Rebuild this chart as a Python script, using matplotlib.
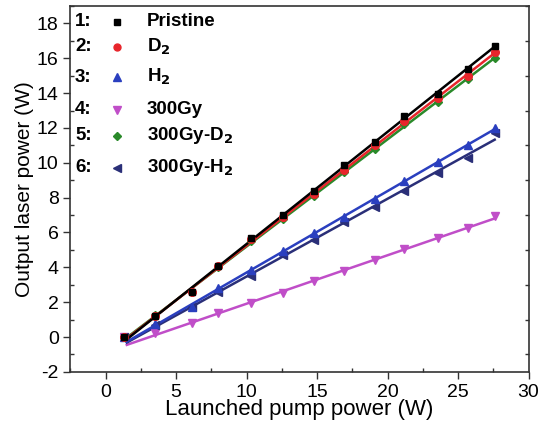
import numpy as np
import matplotlib
matplotlib.use("Agg")
import matplotlib.pyplot as plt
from matplotlib.ticker import MultipleLocator

plt.rcParams['font.family'] = ['Liberation Sans', 'DejaVu Sans']
plt.rcParams['axes.unicode_minus'] = False

pump = [1.3, 3.5, 6.1, 8.0, 10.3, 12.6, 14.8, 16.9, 19.1, 21.2, 23.6, 25.7, 27.6]
pristine = [0.0, 1.2, 2.6, 4.1, 5.7, 7.0, 8.4, 9.85, 11.2, 12.66, 13.95, 15.4, 16.7]
d2 = [0.0, 1.2, 2.6, 4.05, 5.6, 6.9, 8.2, 9.6, 11.0, 12.4, 13.7, 15.0, 16.35]
h2 = [0.0, 0.75, 1.75, 2.8, 3.85, 4.96, 5.96, 6.91, 7.9, 8.97, 10.04, 11.0, 12.0]
gy300 = [0.0, 0.25, 0.82, 1.36, 1.97, 2.51, 3.22, 3.8, 4.43, 5.04, 5.67, 6.24, 6.95]
gy300_d2 = [0.0, 1.25, 2.6, 4.0, 5.5, 6.8, 8.1, 9.5, 10.8, 12.2, 13.5, 14.8, 16.0]
gy300_h2 = [0.0, 0.69, 1.7, 2.6, 3.5, 4.71, 5.57, 6.63, 7.49, 8.4, 9.4, 10.27, 11.7]

names = ['Pristine', r'D$_\mathbf{2}$', r'H$_\mathbf{2}$', '300Gy', r'300Gy-D$_\mathbf{2}$', r'300Gy-H$_\mathbf{2}$']
series = [pristine, d2, h2, gy300, gy300_d2, gy300_h2]
colors = ['#000000', '#e8252b', '#2a3fbf', '#c04ec8', '#2a8a2a', '#2a2f78']
markers = ['s', 'o', '^', 'v', 'D', '<']
msizes = [5, 5.5, 6, 6, 4.5, 6]

fig = plt.figure(figsize=(5.46, 4.26), dpi=100)
ax = fig.add_axes([0.129, 0.127, 0.839, 0.859])

x = np.array(pump)
order = [3, 5, 2, 4, 1, 0]
for i in order:
    y = np.array(series[i])
    k, b = np.polyfit(x[1:], y[1:], 1)
    xl = np.array([x[0] + 0.2, x[-1]])
    ax.plot(xl, k * xl + b, color=colors[i], lw=1.8, zorder=2)
    ax.plot(x, y, linestyle='none', marker=markers[i], color=colors[i], ms=msizes[i], zorder=3)

ax.set_xlim(-2.5, 30)
ax.set_ylim(-2, 19)
ax.xaxis.set_major_locator(MultipleLocator(5))
ax.xaxis.set_minor_locator(MultipleLocator(2.5))
ax.yaxis.set_major_locator(MultipleLocator(2))
ax.yaxis.set_minor_locator(MultipleLocator(1))
ax.tick_params(axis='both', which='major', direction='out', length=5, width=1, labelsize=14, colors='#333333', labelcolor='black')
ax.tick_params(axis='x', which='minor', direction='in', length=3, width=1, colors='#333333')
ax.tick_params(axis='y', which='minor', direction='out', length=3, width=1, colors='#333333')
ax.tick_params(axis='y', which='minor', right=True, direction='in')
for s in ax.spines.values():
    s.set_color('#333333')
    s.set_linewidth(1.2)

ax.set_xlabel('Launched pump power (W)', fontsize=16, labelpad=-1)
ax.set_ylabel('Output laser power (W)', fontsize=15, labelpad=2)

# custom legend
row_y = [21.7, 46.7, 77.3, 110, 136, 168]
for j, (nm, c, m, ms) in enumerate(zip(names, colors, markers, msizes)):
    yy = 426 - row_y[j]
    fig.text(75 / 546, yy / 426, f'{j+1}:', fontsize=13.5, fontweight='bold', va='center', ha='left')
    fig.text(147 / 546, yy / 426, nm, fontsize=13.5, fontweight='bold', va='center', ha='left')
    fig.lines.append(plt.Line2D([117 / 546], [yy / 426], marker=m, color=c, ms=ms - 0.5,
                                linestyle='none', transform=fig.transFigure))

fig.savefig('out.png', dpi=100)
